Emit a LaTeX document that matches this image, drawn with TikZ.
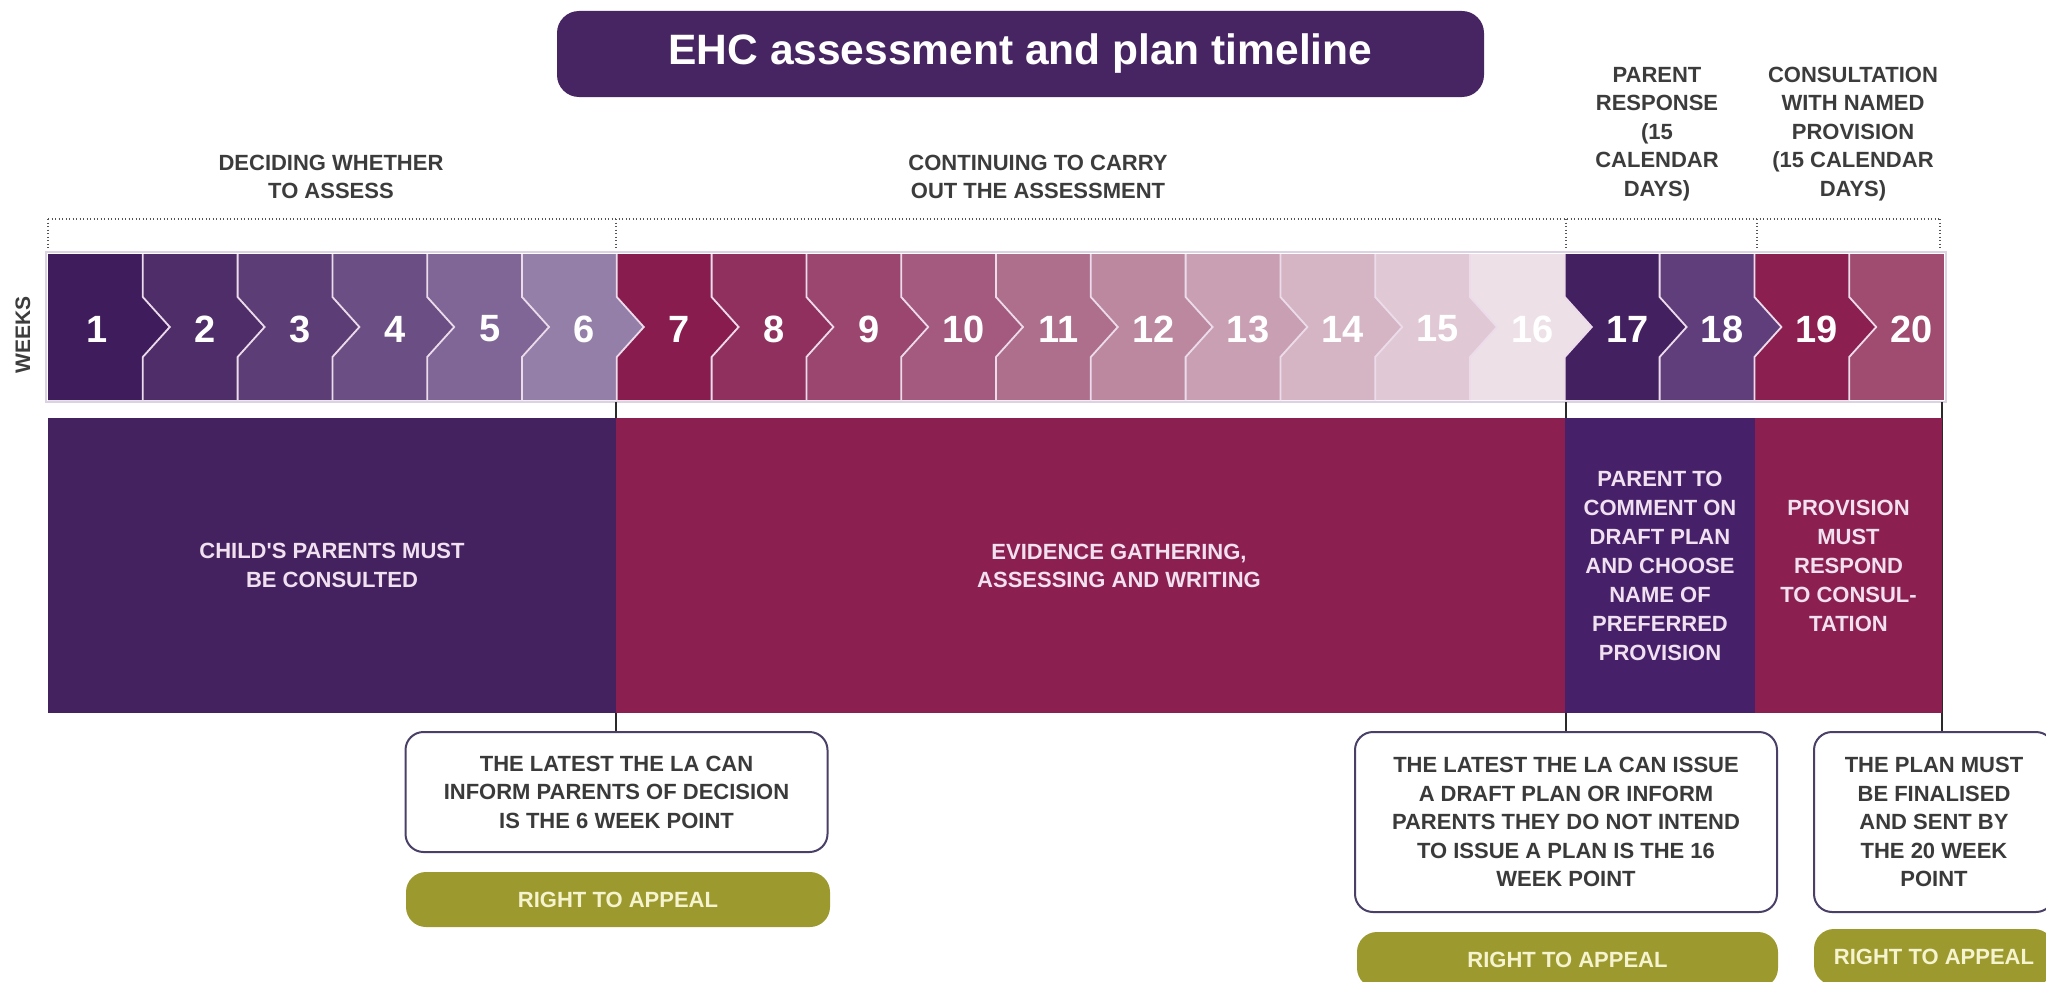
\documentclass[tikz,border=0pt]{standalone}
\usepackage{fontspec}
\setmainfont{Liberation Sans}
\definecolor{titlepurple}{HTML}{472462}
\definecolor{headgray}{HTML}{3C3C3C}
\definecolor{dotgray}{HTML}{555555}
\definecolor{frameclr}{HTML}{DCD2E4}
\definecolor{sepclr}{HTML}{ECDCEB}
\definecolor{w1}{HTML}{3F1D5C}
\definecolor{w2}{HTML}{4E2D69}
\definecolor{w3}{HTML}{5C3D76}
\definecolor{w4}{HTML}{6B4F84}
\definecolor{w5}{HTML}{7F6696}
\definecolor{w6}{HTML}{947FA8}
\definecolor{w7}{HTML}{881C4E}
\definecolor{w8}{HTML}{90305E}
\definecolor{w9}{HTML}{9A466F}
\definecolor{w10}{HTML}{A45A7E}
\definecolor{w11}{HTML}{AE6F8C}
\definecolor{w12}{HTML}{BC88A0}
\definecolor{w13}{HTML}{C9A0B3}
\definecolor{w14}{HTML}{D5B5C4}
\definecolor{w15}{HTML}{E0C9D4}
\definecolor{w16}{HTML}{EDE1E7}
\definecolor{w17}{HTML}{43205F}
\definecolor{w18}{HTML}{5F3E7B}
\definecolor{w19}{HTML}{8A1F50}
\definecolor{w20}{HTML}{A04C70}
\definecolor{blkpurple}{HTML}{44225F}
\definecolor{blkpurpleb}{HTML}{46216A}
\definecolor{blkmagenta}{HTML}{8B2050}
\definecolor{blktext}{HTML}{F0E0F0}
\definecolor{calloutborder}{HTML}{4A3F66}
\definecolor{callouttext}{HTML}{3A3A3A}
\definecolor{olivefill}{HTML}{9C9A2F}
\definecolor{olivetext}{HTML}{F6F3CF}
\definecolor{connclr}{HTML}{2A2A2A}
\begin{document}
\begin{tikzpicture}[x=1pt,y=-1pt,
  titlebox/.style={fill=titlepurple, rounded corners=22pt, minimum width=927pt, minimum height=86pt, inner sep=0pt, text=white, font=\fontsize{42.5}{50}\selectfont\bfseries},
  header/.style={align=center, inner sep=0pt, text=headgray, font=\fontsize{22}{28.5}\selectfont\bfseries},
  weeknum/.style={inner sep=0pt, text=white, font=\fontsize{38}{40}\selectfont\bfseries},
  blk/.style={inner sep=0pt, draw=none, minimum height=295pt, align=center, text=blktext, font=\fontsize{22}{28.5}\selectfont\bfseries},
  blktxt/.style={inner sep=0pt, align=center, text=blktext, font=\fontsize{22}{28.5}\selectfont\bfseries},
  callout/.style={draw=calloutborder, line width=2pt, fill=white, rounded corners=18pt, inner sep=0pt, align=center, text=callouttext, font=\fontsize{22}{28.5}\selectfont\bfseries},
  appeal/.style={fill=olivefill, rounded corners=20pt, inner sep=0pt, text=olivetext, font=\fontsize{22}{26}\selectfont\bfseries},
  dotline/.style={draw=dotgray, line width=1.6pt, dash pattern=on 1.3pt off 2.2pt},
  conn/.style={draw=connclr, line width=1.6pt},
  sepline/.style={draw=sepclr, line width=1.8pt, line join=miter},
  barframe/.style={draw=frameclr, line width=2pt}
]
\useasboundingbox (0,0) rectangle (2046,982);
\clip (0,0) rectangle (2046,982);

% title
\node[titlebox] (title) at (1020.5,54) {EHC assessment and plan timeline};

% phase headers
\node[header] (h1) at (331,177) {DECIDING WHETHER\\TO ASSESS};
\node[header] (h2) at (1038,177) {CONTINUING TO CARRY\\OUT THE ASSESSMENT};
\node[header] (h3) at (1657,134) {PARENT\\RESPONSE\\(15\\CALENDAR\\DAYS)};
\node[header] (h4) at (1853,134) {CONSULTATION\\WITH NAMED\\PROVISION\\(15 CALENDAR\\DAYS)};

% dotted bracket
\coordinate (d0) at (48,219);
\coordinate (d1) at (616,219);
\coordinate (d2) at (1566,219);
\coordinate (d3) at (1757,219);
\coordinate (d4) at (1940,219);
\draw[dotline] (d0) -- (d4);
\foreach \d in {d0,d1,d2,d3,d4} \draw[dotline] (\d) -- ++(0,29);

% WEEKS label
\node[rotate=90, inner sep=0pt, text=headgray, font=\fontsize{21}{24}\selectfont\bfseries] (weeks) at (23,335) {WEEKS};

% week cells
\draw[barframe, fill=white] (46,252) rectangle (1946,402);
\foreach \i in {20,19,...,1} {
  \pgfmathsetmacro\xa{48+(\i-1)*94.8}
  \pgfmathsetmacro\xb{\xa+94.8}
  \ifnum\i=20
    \fill[w\i] (\xa,254) rectangle (\xb,400);
  \else
    \fill[w\i] (\xa,254) -- (\xb,254) -- (\xb,297) -- (\xb+27,327) -- (\xb,357) -- (\xb,400) -- (\xa,400) -- cycle;
  \fi
}
\foreach \i in {1,...,19} {
  \pgfmathsetmacro\xb{48+\i*94.8}
  \draw[sepline] (\xb,254) -- (\xb,297) -- (\xb+27,327) -- (\xb,357) -- (\xb,400);
}
\draw[barframe] (46,252) rectangle (1946,402);
\foreach \i in {1,...,20} {
  \pgfmathsetmacro\xc{48+(\i-1)*94.8+47.4+(\i>1)*15+(\i==1)*2}
  \node[weeknum] (n\i) at (\xc,329) {\i};
}

% callout boxes
\node[callout, minimum width=422pt, minimum height=120pt] (boxA) at (616.5,792) {THE LATEST THE LA CAN\\INFORM PARENTS OF DECISION\\IS THE 6 WEEK POINT};
\node[callout, minimum width=422pt, minimum height=180pt] (boxB) at (1566,822) {THE LATEST THE LA CAN ISSUE\\A DRAFT PLAN OR INFORM\\PARENTS THEY DO NOT INTEND\\TO ISSUE A PLAN IS THE 16\\WEEK POINT};
\node[callout, minimum width=240pt, minimum height=180pt] (boxC) at (1934,822) {THE PLAN MUST\\BE FINALISED\\AND SENT BY\\THE 20 WEEK\\POINT};

% right to appeal
\node[appeal, minimum width=424pt, minimum height=55pt] (apA) at (618,899.5) {RIGHT TO APPEAL};
\node[appeal, minimum width=421pt, minimum height=56pt] (apB) at (1567.5,960) {RIGHT TO APPEAL};
\node[appeal, minimum width=240pt, minimum height=56pt] (apC) at (1934,957) {RIGHT TO APPEAL};

% connectors (behind the blocks)
\coordinate (c6) at (616,402);
\coordinate (c16) at (1566,402);
\coordinate (c20) at (1942,402);
\draw[conn] (c6) -- (c6 |- boxA.north);
\draw[conn] (c16) -- (c16 |- boxB.north);
\draw[conn] (c20) -- (c20 |- boxC.north);

% lower blocks
\node[blk, fill=blkpurple, minimum width=568pt] (blk1) at (332,565.5) {CHILD\textquotesingle S PARENTS MUST\\BE CONSULTED};
\node[blk, fill=blkmagenta, minimum width=949pt] (blk2) at (1090.5,565.5) {};
\node[blktxt] (blk2txt) at (1119,566) {EVIDENCE GATHERING,\\ASSESSING AND WRITING};
\node[blk, fill=blkpurpleb, minimum width=190pt, font=\fontsize{22}{29}\selectfont\bfseries] (blk3) at (1660,565.5) {PARENT TO\\COMMENT ON\\DRAFT PLAN\\AND CHOOSE\\NAME OF\\PREFERRED\\PROVISION};
\node[blk, fill=blkmagenta, minimum width=187pt, font=\fontsize{22}{29}\selectfont\bfseries] (blk4) at (1848.5,565.5) {PROVISION\\MUST\\RESPOND\\TO CONSUL-\\TATION};
\end{tikzpicture}
\end{document}
